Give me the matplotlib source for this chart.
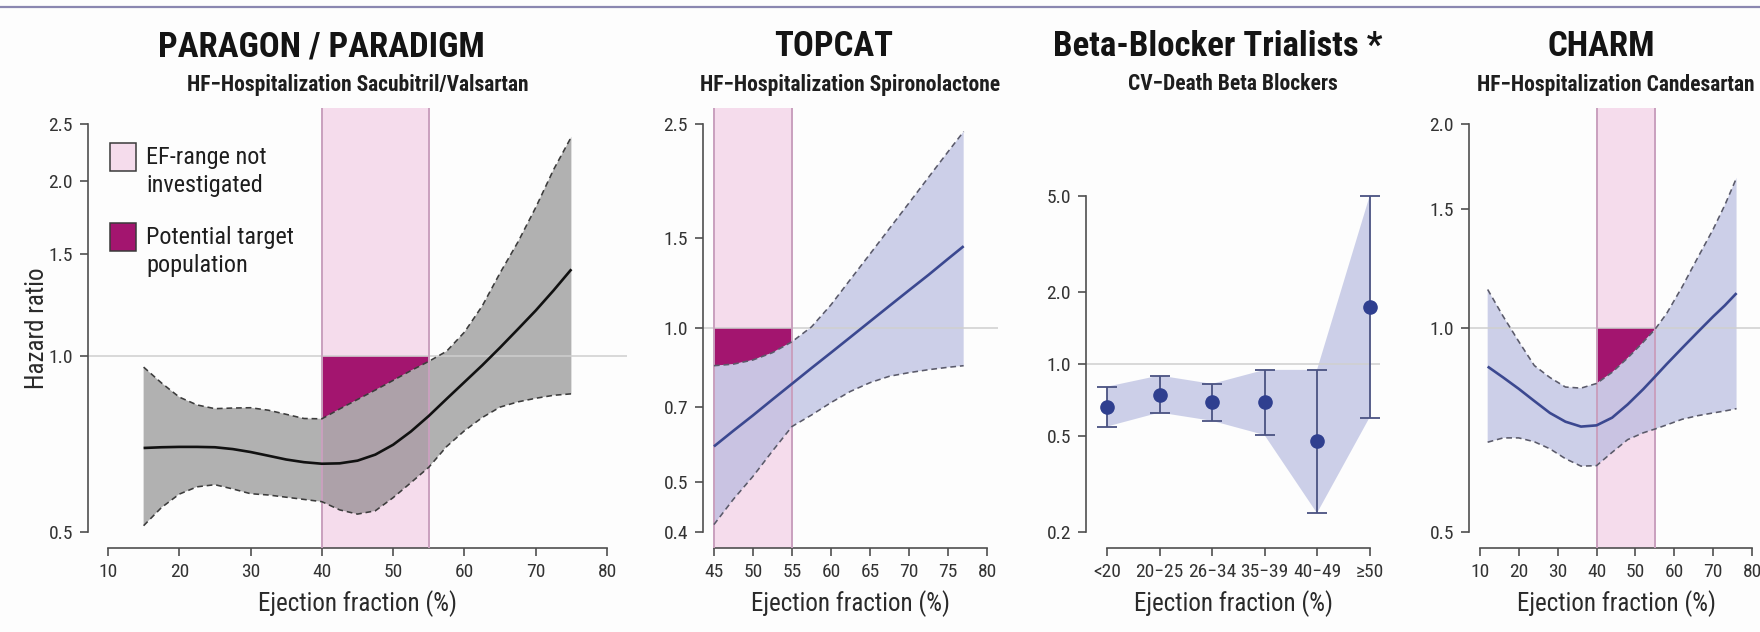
import numpy as np
import matplotlib
matplotlib.use("Agg")
import matplotlib.pyplot as plt
from matplotlib import font_manager as fm
from matplotlib.lines import Line2D
from matplotlib.patches import Rectangle
from matplotlib.ticker import FixedLocator, FixedFormatter, NullLocator

# ---------------------------------------------------------------- data
# PARAGON / PARADIGM: HF hospitalisation, sacubitril/valsartan
paragon_ef = [15, 17.5, 20, 22.5, 25, 27.5, 30, 32.5, 35, 37.5, 40, 42.5, 45,
              47.5, 50, 52.5, 55, 57.5, 60, 62.5, 65, 67.5, 70, 72.5, 75]
paragon_hr = [0.696, 0.698, 0.699, 0.699, 0.698, 0.693, 0.685, 0.675, 0.665,
              0.658, 0.654, 0.655, 0.662, 0.678, 0.705, 0.743, 0.790, 0.845,
              0.903, 0.965, 1.035, 1.113, 1.198, 1.297, 1.410]
paragon_lo = [0.512, 0.550, 0.580, 0.597, 0.602, 0.592, 0.581, 0.578, 0.573,
              0.568, 0.563, 0.545, 0.536, 0.543, 0.572, 0.607, 0.645, 0.700,
              0.745, 0.785, 0.818, 0.835, 0.847, 0.857, 0.862]
paragon_hi = [0.958, 0.900, 0.851, 0.825, 0.813, 0.815, 0.816, 0.808, 0.795,
              0.782, 0.781, 0.812, 0.843, 0.875, 0.909, 0.945, 0.980, 1.020,
              1.100, 1.220, 1.390, 1.570, 1.800, 2.090, 2.380]

# TOPCAT: HF hospitalisation, spironolactone
topcat_ef = [45, 47.5, 50, 52.5, 55, 57.5, 60, 62.5, 65, 67.5, 70, 72.5, 75, 77]
topcat_hr = [0.587, 0.630, 0.675, 0.725, 0.778, 0.835, 0.895, 0.960, 1.030,
             1.105, 1.185, 1.270, 1.365, 1.445]
topcat_lo = [0.413, 0.463, 0.513, 0.575, 0.642, 0.676, 0.715, 0.752, 0.782,
             0.805, 0.818, 0.829, 0.838, 0.844]
topcat_hi = [0.844, 0.850, 0.866, 0.895, 0.940, 1.005, 1.110, 1.245, 1.395,
             1.565, 1.755, 1.970, 2.210, 2.420]

# Beta-Blocker Trialists: CV death by EF category
bb_groups = ["<20", "20\u221225", "26\u221234", "35\u221239", "40\u221249", "\u226550"]
bb_hr = [0.664, 0.743, 0.696, 0.696, 0.478, 1.73]
bb_lo = [0.549, 0.628, 0.580, 0.506, 0.239, 0.598]
bb_hi = [0.805, 0.896, 0.827, 0.946, 0.946, 5.00]

# CHARM: HF hospitalisation, candesartan
charm_ef = [12, 16, 20, 24, 28, 32, 36, 40, 44, 48, 52, 55, 58, 62, 66, 70, 73, 76]
charm_hr = [0.877, 0.845, 0.813, 0.780, 0.749, 0.727, 0.715, 0.718, 0.737,
            0.771, 0.812, 0.847, 0.884, 0.934, 0.986, 1.040, 1.080, 1.126]
charm_lo = [0.678, 0.688, 0.688, 0.679, 0.663, 0.641, 0.625, 0.626, 0.655,
            0.684, 0.700, 0.709, 0.719, 0.733, 0.742, 0.749, 0.754, 0.760]
charm_hi = [1.140, 1.040, 0.955, 0.880, 0.845, 0.818, 0.815, 0.828, 0.860,
            0.903, 0.953, 0.995, 1.050, 1.150, 1.270, 1.400, 1.520, 1.667]

titles = ["PARAGON / PARADIGM", "TOPCAT", "Beta-Blocker Trialists *", "CHARM"]
subtitles = ["HF\u2212Hospitalization Sacubitril/Valsartan",
             "HF\u2212Hospitalization Spironolactone",
             "CV\u2212Death Beta Blockers",
             "HF\u2212Hospitalization Candesartan"]
x_ticks = [[10, 20, 30, 40, 50, 60, 70, 80],
           [45, 50, 55, 60, 65, 70, 75, 80],
           [1, 2, 3, 4, 5, 6],
           [10, 20, 30, 40, 50, 60, 70, 80]]
y_ticks = [[0.5, 1.0, 1.5, 2.0, 2.5],
           [0.4, 0.5, 0.7, 1.0, 1.5, 2.5],
           [0.2, 0.5, 1.0, 2.0, 5.0],
           [0.5, 1.0, 1.5, 2.0]]
y_ranges = [(0.5, 2.5), (0.4, 2.5), (0.2, 10.0), (0.5, 2.0)]
x_ranges = [(10, 80), (45, 80), None, (10, 80)]
uninvestigated = [(40, 55), (45, 55), None, (40, 55)]
legend_labels = ["EF-range not\ninvestigated", "Potential target\npopulation"]

# ---------------------------------------------------------------- fonts
names = {f.name for f in fm.fontManager.ttflist}
if "Liberation Sans Narrow" in names:
    NARROW = "Liberation Sans Narrow"
    STRETCH = "normal"
elif "Roboto Condensed" in names:
    NARROW = "Roboto Condensed"
    STRETCH = "normal"
else:
    NARROW = "DejaVu Sans"
    STRETCH = "condensed"
FAM = [NARROW, "DejaVu Sans"]
plt.rcParams["font.family"] = FAM
plt.rcParams["font.stretch"] = STRETCH

# ---------------------------------------------------------------- colours
PINK = "#f5dcec"
PINK_EDGE = "#c9a0be"
MAGENTA = "#a3156f"
GREY_BAND = "#6e6e6e"
BLUE_BAND = "#aeb4dc"
BLUE_LINE = "#3b4890"
POINT = "#2f3f8f"
AXIS = "#4f4f4f"
TICKTXT = "#333333"
REF = "#cfcfcf"

W, H = 1760, 632
fig = plt.figure(figsize=(W / 100, H / 100), dpi=100)
fig.patch.set_facecolor("#fdfdfd")

# pixel boxes of the four plot regions (left, width); shared top/bottom
boxes = [(88, 539), (703, 295), (1086, 294), (1469, 294)]
top_px, bot_px = 108, 548
title_x = [321, 834, 1218, 1601]


def padded(lo, hi, log=False, frac=0.04):
    if log:
        a, b = np.log(lo), np.log(hi)
        d = (b - a) * frac
        return np.exp(a - d), np.exp(b + d)
    d = (hi - lo) * frac
    return lo - d, hi + d


axes = []
for i, (lpx, wpx) in enumerate(boxes):
    ax = fig.add_axes([lpx / W, 1 - bot_px / H, wpx / W, (bot_px - top_px) / H])
    ax.set_facecolor("none")
    ax.set_yscale("log")
    ax.set_ylim(*padded(*y_ranges[i], log=True))
    if x_ranges[i] is not None:
        ax.set_xlim(*padded(*x_ranges[i]))
    else:
        ax.set_xlim(0.6, 6.2)
    for s in ("top", "right"):
        ax.spines[s].set_visible(False)
    for s in ("left", "bottom"):
        ax.spines[s].set_color(AXIS)
        ax.spines[s].set_linewidth(1.2)
    ax.spines["left"].set_bounds(y_ticks[i][0], y_ticks[i][-1])
    ax.spines["bottom"].set_bounds(x_ticks[i][0], x_ticks[i][-1])
    ax.yaxis.set_major_locator(FixedLocator(y_ticks[i]))
    ax.yaxis.set_major_formatter(FixedFormatter([f"{v:.1f}" for v in y_ticks[i]]))
    ax.yaxis.set_minor_locator(NullLocator())
    ax.xaxis.set_major_locator(FixedLocator(x_ticks[i]))
    if i == 2:
        ax.xaxis.set_major_formatter(FixedFormatter(bb_groups))
    else:
        ax.xaxis.set_major_formatter(FixedFormatter([str(v) for v in x_ticks[i]]))
    ax.tick_params(axis="both", which="major", direction="out", length=5.8,
                   width=1.2, color=AXIS, labelcolor=TICKTXT, labelsize=14,
                   pad=5)
    ax.axhline(1.0, color=REF, lw=1.1, zorder=2.5)

    # titles
    cx = (lpx + wpx / 2) / W
    fig.text(title_x[i] / W, 1 - 56.5 / H, titles[i], ha="center", va="baseline",
             fontsize=25, fontweight="bold", color="#141414")
    fig.text(cx, 1 - 90.5 / H, subtitles[i], ha="center", va="baseline",
             fontsize=15.5, fontweight="bold", color="#1e1e1e")
    ax.text(0.5, (bot_px - 611.5) / (bot_px - top_px), "Ejection fraction (%)",
            transform=ax.transAxes, ha="center", va="baseline", fontsize=18,
            color="#2a2a2a")
    axes.append(ax)


def draw_curve_panel(ax, ef, hr, lo, hi, band_rng, band_color, band_alpha,
                     line_color, dash_color):
    ef = np.asarray(ef)
    hr = np.asarray(hr)
    lo = np.asarray(lo)
    hi = np.asarray(hi)
    a, b = band_rng
    ax.axvspan(a, b, facecolor=PINK, edgecolor="none", zorder=0.5)
    for xe in (a, b):
        ax.axvline(xe, color=PINK_EDGE, lw=1.4, zorder=2.6)
    # area between the upper confidence limit and HR = 1 inside the band
    idx = np.where((ef >= a) & (ef <= b))[0]
    ax.fill_between(ef[idx], hi[idx], 1.0, facecolor=MAGENTA, edgecolor="none",
                    zorder=1)
    ax.fill_between(ef, lo, hi, facecolor=band_color, alpha=band_alpha,
                    edgecolor="none", zorder=2)
    dash = (0, (3.6, 2.4))
    ax.plot(ef, lo, color=dash_color, lw=1.15, ls=dash, zorder=3)
    ax.plot(ef, hi, color=dash_color, lw=1.15, ls=dash, zorder=3)
    ax.plot(ef, hr, color=line_color, lw=1.9, zorder=3.5,
            solid_capstyle="butt")


draw_curve_panel(axes[0], paragon_ef, paragon_hr, paragon_lo, paragon_hi,
                 uninvestigated[0], GREY_BAND, 0.53, "#111111", "#3c3c3c")
draw_curve_panel(axes[1], topcat_ef, topcat_hr, topcat_lo, topcat_hi,
                 uninvestigated[1], BLUE_BAND, 0.62, BLUE_LINE, "#5a5a6a")
draw_curve_panel(axes[3], charm_ef, charm_hr, charm_lo, charm_hi,
                 uninvestigated[3], BLUE_BAND, 0.62, BLUE_LINE, "#5a5a6a")

# Beta-blocker categories: shaded envelope plus point estimates with CIs
ax = axes[2]
xpos = np.arange(1, len(bb_groups) + 1)
hr = np.asarray(bb_hr)
lo = np.asarray(bb_lo)
hi = np.asarray(bb_hi)
ax.fill_between(xpos, lo, hi, facecolor=BLUE_BAND, alpha=0.62, edgecolor="none",
                zorder=2)
ax.errorbar(xpos, hr, yerr=[hr - lo, hi - hr], fmt="o", color=POINT,
            ecolor="#4a5282", elinewidth=1.3, capsize=7, capthick=1.3,
            markersize=9.5, zorder=4)

# y label and legend on the first panel
ax = axes[0]
ax.text((37 - boxes[0][0]) / boxes[0][1], 0.5, "Hazard ratio", rotation=90,
        transform=ax.transAxes, ha="center", va="center", fontsize=18,
        color="#2a2a2a")
hpx = bot_px - top_px
leg_items = [(PINK, 143, legend_labels[0]), (MAGENTA, 223, legend_labels[1])]
for color, ytop, label in leg_items:
    x0 = (110 - boxes[0][0]) / boxes[0][1]
    w = 26 / boxes[0][1]
    y0 = 1 - (ytop + 28 - top_px) / hpx
    h = 28 / hpx
    ax.add_patch(Rectangle((x0, y0), w, h, transform=ax.transAxes,
                           facecolor=color, edgecolor="#3a3a3a", lw=1.1,
                           zorder=5, clip_on=False))
    ax.text((146 - boxes[0][0]) / boxes[0][1], 1 - (ytop + 28.5 - top_px) / hpx,
            label, transform=ax.transAxes, ha="left", va="center",
            fontsize=17.5, linespacing=1.3, color="#1e1e1e", zorder=5)

# thin rule along the top edge
fig.add_artist(Line2D([0, 1], [1 - 7 / H, 1 - 7 / H], transform=fig.transFigure,
                      color="#8a87b0", lw=1.6))

fig.savefig("out.png", dpi=100, facecolor=fig.get_facecolor())
